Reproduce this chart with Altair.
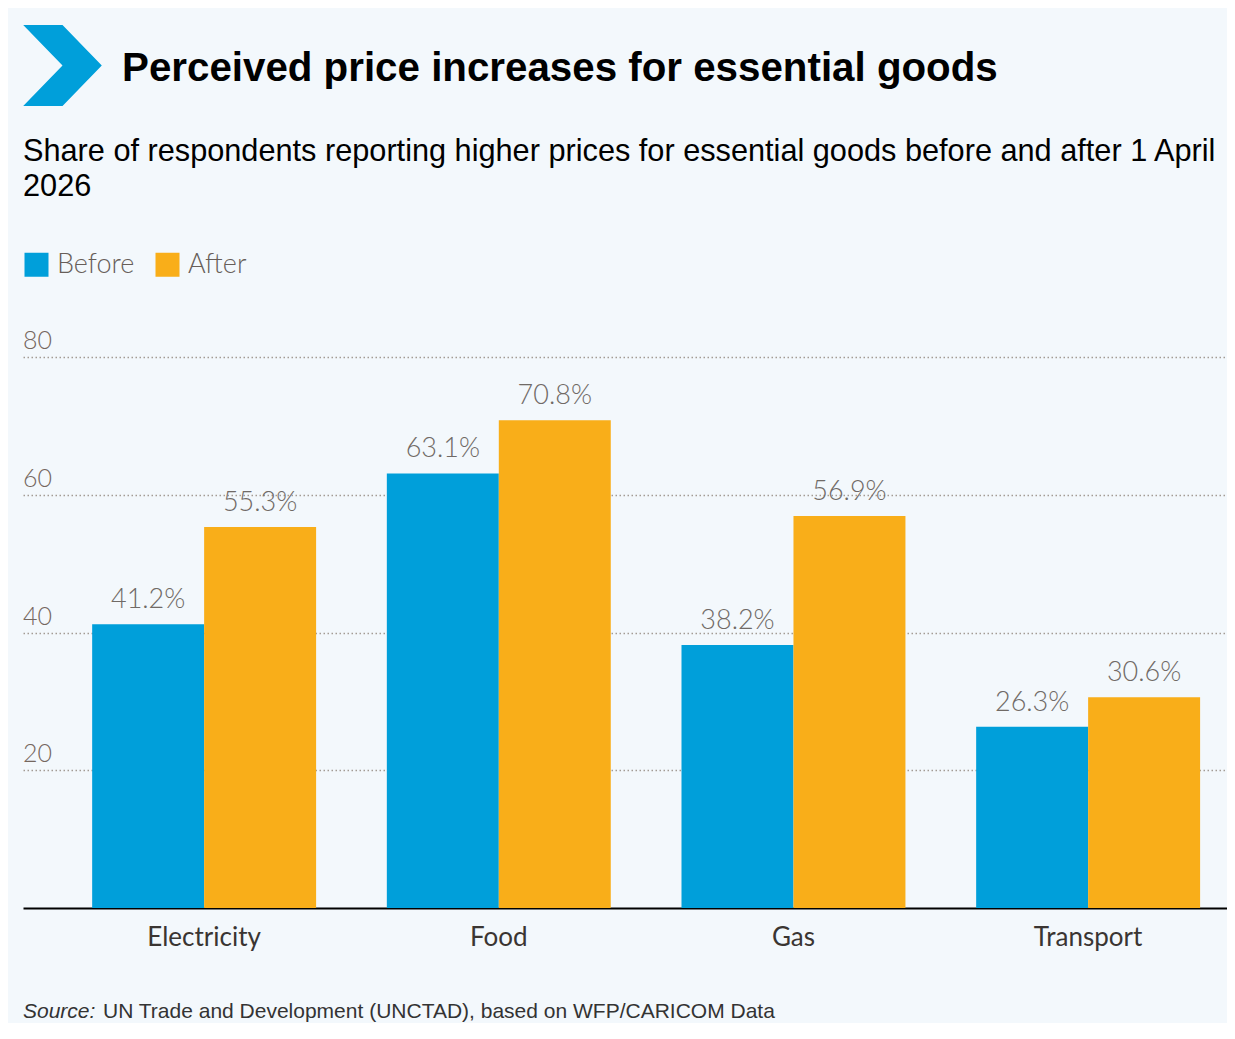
import altair as alt
import pandas as pd

# ---- data ----
categories = ["Electricity", "Food", "Gas", "Transport"]
before_vals = [41.2, 63.1, 38.2, 26.3]
after_vals = [55.3, 70.8, 56.9, 30.6]
series_names = ["Before", "After"]
y_ticks = [20, 40, 60, 80]

title_text = "Perceived price increases for essential goods"
subtitle_text = "Share of respondents reporting higher prices for essential goods before and after 1 April\n2026"
source_label = "Source:"
source_text = "UN Trade and Development (UNCTAD), based on WFP/CARICOM Data"

BLUE = "#009FDA"
ORANGE = "#F9AE19"
BG = "#F3F8FC"
NARROW = "Lato, Roboto, sans-serif"
SANS = "Liberation Sans, Arial, sans-serif"

rows = []
for c, b, a in zip(categories, before_vals, after_vals):
    rows.append({"category": c, "series": "Before", "value": b})
    rows.append({"category": c, "series": "After", "value": a})
df = pd.DataFrame(rows)

W, H = 1204, 551

x_enc = alt.X(
    "category:N",
    sort=categories,
    scale=alt.Scale(paddingInner=0.24, paddingOuter=0.163, align=0.72),
    axis=alt.Axis(
        title=None, labelAngle=0, ticks=False, tickSize=0, labelPadding=16,
        labelFontSize=26, labelFont=NARROW, labelFontWeight=400, labelColor="#3a3532",
        domainColor="#000000", domainWidth=2, grid=False,
    ),
)
xoff_enc = alt.XOffset("series:N", sort=series_names)
y_enc = alt.Y(
    "value:Q",
    scale=alt.Scale(domain=[0, 80], nice=False),
    axis=alt.Axis(
        title=None, labels=False, ticks=False, domain=False, grid=True,
        values=y_ticks, gridDash=[1.5, 2.5], gridColor="#a39b94", gridWidth=1.5,
    ),
)

bars = alt.Chart(df).mark_bar().encode(
    x=x_enc,
    xOffset=xoff_enc,
    y=y_enc,
    color=alt.Color(
        "series:N",
        sort=series_names,
        scale=alt.Scale(domain=series_names, range=[BLUE, ORANGE]),
        legend=alt.Legend(title=None),
    ),
)

labels = alt.Chart(df).transform_calculate(
    lbl="format(datum.value, '.1f') + '%'"
).mark_text(
    font=NARROW, fontSize=27, fontWeight=300, color="#706a66", baseline="alphabetic", dy=-16
).encode(
    x=alt.X("category:N", sort=categories),
    xOffset=alt.XOffset("series:N", sort=series_names),
    y=alt.Y("value:Q"),
    text="lbl:N",
)

tick_df = pd.DataFrame({"tick": y_ticks})
tick_labels = alt.Chart(tick_df).mark_text(
    font=NARROW, fontSize=25, fontWeight=300, color="#75675f", align="left",
    baseline="alphabetic", dy=-8
).encode(
    x=alt.value(0),
    y=alt.Y("tick:Q"),
    text=alt.Text("tick:Q", format="d"),
)

chevron_path = "M-0.97,-1 L0,-1 L0.97,0 L0,1 L-0.97,1 L0,0 Z"
chevron = alt.Chart(pd.DataFrame({"k": [0]})).mark_point(
    shape=chevron_path, size=6561, filled=True, fill=BLUE, opacity=1, strokeWidth=0
).encode(x=alt.value(39.5), y=alt.value(-291.5))

title_mark = alt.Chart(pd.DataFrame({"t": [title_text]})).mark_text(
    font=SANS, fontSize=40.3, fontWeight="bold", color="#000000",
    align="left", baseline="alphabetic",
).encode(x=alt.value(99), y=alt.value(-276), text="t:N")

subtitle_mark = alt.Chart(pd.DataFrame({"t": [subtitle_text]})).mark_text(
    font=SANS, fontSize=30.7, color="#000000", align="left", baseline="alphabetic",
    lineBreak="\n", lineHeight=35,
).encode(x=alt.value(0), y=alt.value(-196), text="t:N")

source_a = alt.Chart(pd.DataFrame({"t": [source_label]})).mark_text(
    font=SANS, fontSize=21, fontStyle="italic", color="#333333",
    align="left", baseline="alphabetic",
).encode(x=alt.value(0), y=alt.value(H + 110), text="t:N")

source_b = alt.Chart(pd.DataFrame({"t": [source_text]})).mark_text(
    font=SANS, fontSize=21, color="#333333", align="left", baseline="alphabetic",
).encode(x=alt.value(80), y=alt.value(H + 110), text="t:N")

chart = alt.layer(
    bars, labels, tick_labels, chevron, title_mark, subtitle_mark, source_a, source_b
).properties(
    width=W,
    height=H,
    autosize=alt.AutoSizeParams(type="none"),
    padding={"left": 15, "top": 349, "right": 0, "bottom": 115},
    background=BG,
).configure_view(
    stroke=None
).configure_legend(
    orient="none", legendX=0, legendY=-106, direction="horizontal",
    symbolType="square", symbolSize=576, symbolStrokeWidth=0, symbolOpacity=1,
    labelFont=NARROW, labelFontSize=27, labelFontWeight=300, labelColor="#675e59",
    columnPadding=19, labelOffset=7, padding=0,
)

chart.save("out.html", embed_options={"renderer": "svg", "actions": False})
